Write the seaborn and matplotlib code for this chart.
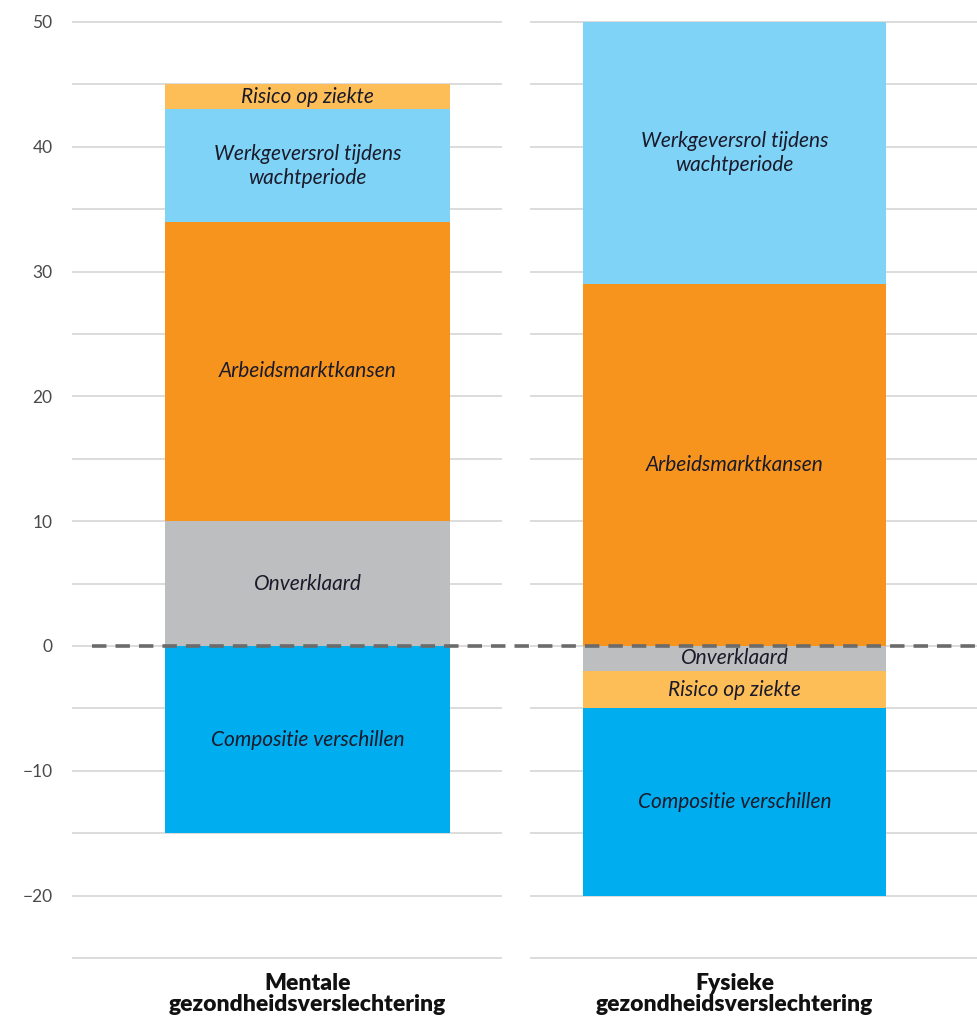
import numpy as np
import pandas as pd
import matplotlib
matplotlib.use("Agg")
import matplotlib.pyplot as plt
import seaborn as sns

categories = ["Mentale\ngezondheidsverslechtering", "Fysieke\ngezondheidsverslechtering"]
segments = ["Compositie verschillen", "Onverklaard", "Risico op ziekte",
            "Arbeidsmarktkansen", "Werkgeversrol tijdens\nwachtperiode"]
mentale = [-15, 10, 2, 24, 9]
fysieke = [-15, -2, -3, 29, 21]
colors = ["#00AEEF", "#BDBEC0", "#FDBE57", "#F7941D", "#7FD3F7"]
# stacking order (bottom to top) of positive and negative parts
order_mentale = ["Compositie verschillen", "Onverklaard", "Arbeidsmarktkansen",
                 "Werkgeversrol tijdens\nwachtperiode", "Risico op ziekte"]
order_fysieke = ["Onverklaard", "Risico op ziekte", "Compositie verschillen",
                 "Arbeidsmarktkansen", "Werkgeversrol tijdens\nwachtperiode"]
yticks = [-20, -10, 0, 10, 20, 30, 40, 50]

sns.set_theme(style="white")
plt.rcParams["font.family"] = ["Lato", "DejaVu Sans"]

df = pd.DataFrame({"segment": segments, categories[0]: mentale, categories[1]: fysieke})
cmap = dict(zip(segments, colors))

fig = plt.figure(figsize=(9.78, 10.21), dpi=100)
ax = fig.add_axes([72 / 978, 63 / 1021, 1 - 72 / 978, (958 - 22) / 1021])

widths = [0.667, 0.71]
orders = [order_mentale, order_fysieke]
for i, cat in enumerate(categories):
    vals = df.set_index("segment")[cat]
    pos_base, neg_base = 0.0, 0.0
    for seg in orders[i]:
        v = vals[seg]
        if v >= 0:
            b = pos_base
            pos_base += v
        else:
            b = neg_base
            neg_base += v
        ax.bar(i, v, bottom=b, width=widths[i], color=cmap[seg], zorder=2, linewidth=0)
        ax.text(i, b + v / 2, seg, ha="center", va="center", fontsize=15,
                style="italic", color="#1a1a2a", zorder=4, linespacing=1.25)

ax.set_xlim(-0.552, 1.570)
ax.set_ylim(-25, 50)

# gridlines, interrupted between the two category columns
gap_l, gap_r = 0.456, 0.521
for yv in np.arange(-25, 51, 5):
    ax.hlines(yv, -0.552, gap_l, color="#dcdcdc", lw=1.4, zorder=1, clip_on=False)
    ax.hlines(yv, gap_r, 1.570, color="#dcdcdc", lw=1.4, zorder=1, clip_on=False)

ax.hlines(0, -0.505, 1.570, color="#6b6b6b", lw=2.6, linestyles=(0, (4, 2.5)), zorder=5)

ax.set_yticks(yticks)
ax.set_yticklabels([str(t).replace("-", "\u2212") for t in yticks], fontsize=12.5, color="#4a4a4a")
ax.tick_params(axis="y", length=0, pad=14)
ax.set_xticks([0, 1])
ax.set_xticklabels(categories, fontsize=16.5, fontweight="heavy", color="#111111", linespacing=0.98)
ax.tick_params(axis="x", length=0, pad=11)
for s in ax.spines.values():
    s.set_visible(False)
ax.grid(False)

fig.savefig("out.png", dpi=100, facecolor="white")
